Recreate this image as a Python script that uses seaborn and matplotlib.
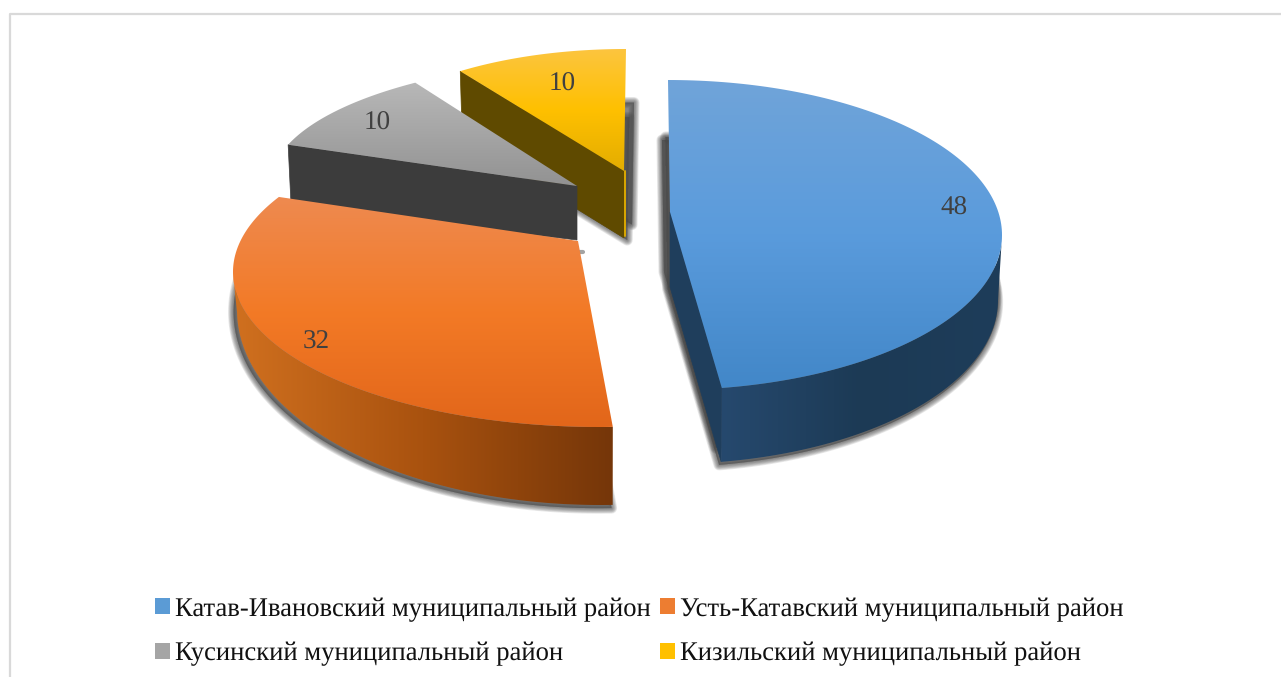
import numpy as np
import matplotlib
matplotlib.use("Agg")
import matplotlib.pyplot as plt
import seaborn as sns
from matplotlib.patches import Patch, Polygon

districts = [
    "Катав-Ивановский муниципальный район",
    "Усть-Катавский муниципальный район",
    "Кусинский муниципальный район",
    "Кизильский муниципальный район",
]
shares = [48, 32, 10, 10]

W, H = 1281, 677

# hand fitted projection of each exploded slice, screen pixels
# apex, top ellipse, bottom ellipse, depth, start shift and sweep stretch (degrees)
apexes = [(670, 212), (578, 241), (577, 186), (624, 171)]
centres = [(668, 235), (600, 272), (621, 183), (626, 165)]
radii = [(334, 155), (367, 155), (350, 124), (282, 116)]
low_centres = [(668, 300), (600, 310), (621, 237), (626, 232)]
low_radii = [(330, 164), (363, 195), (350, 124), (282, 116)]
depths = [75, 78, 54, 67]
shifts = [0, 5.2, 0, 0]
stretch = [0.988, 1.05, 1, 1]
shadow_dx = [-6, -3, 0, 8]
cut_nudge = [(0, 0), (0, 0), (3, 8), (2, 0)]
label_xy = [(954, 208.5), (316, 342.5), (377, 123.5), (562, 84)]

top_colors = [
    ["#70a4d9", "#5a9bdc", "#4287c8"],
    ["#ee8a50", "#f37a26", "#e2661a"],
    ["#b8b8b8", "#a5a5a5", "#929292"],
    ["#fcc53f", "#ffc000", "#e3ad00"],
]
wall_colors = [
    ["#26496e", "#1c3a55", "#1e3d5a"],
    ["#d0701f", "#a9520f", "#753609"],
    ["#3e3e3e", "#3c3c3c", "#3c3c3c"],
    ["#6a5208", "#5f4a00", "#5f4a00"],
]
inner_colors = ["#1f3e5c", None, "#3c3c3c", "#5f4a00"]
legend_colors = ["#5b9bd5", "#ed7d31", "#a5a5a5", "#ffc000"]


def arc_points(centre, radius, start, sweep):
    theta = np.radians(np.linspace(start, start + sweep, 160))
    x = centre[0] + radius[0] * np.sin(theta)
    y = centre[1] - radius[1] * np.cos(theta)
    return np.column_stack([x, y])


def fill_gradient(ax, poly, colors, vertical, zorder):
    # image under a polygon clip, the library has no gradient fill
    cmap = sns.blend_palette(colors, as_cmap=True)
    x0, y0 = poly.min(axis=0)
    x1, y1 = poly.max(axis=0)
    ramp = np.linspace(0, 1, 256)
    ramp = ramp[:, None] if vertical else ramp[None, :]
    im = ax.imshow(ramp, cmap=cmap, extent=(x0, x1, y1, y0), origin="upper",
                   aspect="auto", zorder=zorder, interpolation="bilinear")
    clip = Polygon(poly, closed=True, transform=ax.transData, fc="none", ec="none")
    ax.add_patch(clip)
    im.set_clip_path(clip)


def draw_shadow(ax, poly, zorder):
    # stacked strokes stand in for a blur
    for lw in [8, 7, 6, 5, 4, 3, 2, 1]:
        ax.add_patch(Polygon(poly, closed=True, fc="#4a4a4a", ec="#4a4a4a",
                             lw=lw, alpha=0.12, joinstyle="round", zorder=zorder))


sns.set_theme(style="white")
plt.rcParams["font.family"] = ["Liberation Serif", "DejaVu Serif"]
plt.rcParams["text.hinting"] = "no_hinting"

fig, ax = plt.subplots(figsize=(W / 100, H / 100), dpi=100)
ax.set_position([0, 0, 1, 1])
ax.set_axis_off()

# chart frame, only top and left survive in the crop
ax.plot([9.5, 9.5, W], [H, 13.7, 13.7], color="#d9d9d9", lw=1.6, zorder=1)

starts = np.cumsum([0] + shares[:-1]) / sum(shares) * 360

# back to front so the blue and orange faces sit on top
for z, i in enumerate([3, 2, 1, 0]):
    base = 10 + z * 10
    start = starts[i] + shifts[i]
    sweep = shares[i] / sum(shares) * 360 * stretch[i]
    arc = arc_points(centres[i], radii[i], start, sweep)
    low = arc_points(low_centres[i], low_radii[i], start, sweep)
    apex = np.array(apexes[i], dtype=float)
    drop = np.array([0, depths[i]], dtype=float)
    top = np.vstack([apex, arc])
    bottom = np.vstack([apex + drop, low])

    # shadow, a lowered copy of the top and a slightly bigger copy of the base
    side = np.array([shadow_dx[i], 0.0])
    if i in (0, 3):
        draw_shadow(ax, top + side + drop * 0.8, base)
    if i != 2:
        grown = low_centres[i] + (bottom - low_centres[i]) * 1.006 + np.array([side[0] * 0.4, 2.0])
        draw_shadow(ax, grown, base)
    else:
        # only a speck of the grey shadow shows past the orange corner
        ax.plot([apex[0] + 2, apex[0] + 6], [apex[1] + depths[i] + 12] * 2, color="#666666",
                lw=3, alpha=0.6, solid_capstyle="round", zorder=base)

    # cut wall facing the viewer
    if inner_colors[i] is not None:
        cut_end = arc[-1] if i == 0 else arc[0]
        cut_low = low[-1] if i == 0 else cut_end + drop + cut_nudge[i]
        wall = np.vstack([apex, cut_end, cut_low, apex + drop])
        ax.add_patch(Polygon(wall, closed=True, fc=inner_colors[i],
                             ec=inner_colors[i], lw=0.5, zorder=base + 1))

    # rim, only the part of the arc on the near side
    if i in (0, 1):
        near = arc[:, 1] >= centres[i][1]
        rim = np.vstack([arc[near], low[near][::-1]])
        fill_gradient(ax, rim, wall_colors[i], False, base + 2)

    # thin lit edge along the yellow cut
    if i == 3:
        ax.plot([apex[0] + 1, apex[0] + 1], [apex[1], apex[1] + depths[i] - 2],
                color="#dba800", lw=1.4, zorder=base + 2)

    fill_gradient(ax, top, top_colors[i], True, base + 3)

    ax.text(*label_xy[i], str(shares[i]), color="#404040", fontsize=19.5,
            ha="center", va="center", zorder=90)

ax.set_xlim(0, W)
ax.set_ylim(H, 0)

# legend fills by column, so hand it the rows crossed over
order = [0, 2, 1, 3]
handles = [Patch(fc=legend_colors[i], ec="none") for i in order]
ax.legend(handles, [districts[i] for i in order], ncol=2, frameon=False,
          fontsize=19.2, handlelength=0.56, handleheight=0.56, handletextpad=0.19,
          columnspacing=0.34, labelspacing=0.75, borderpad=0, borderaxespad=0,
          loc="upper left", bbox_to_anchor=(155 / W, 1 - 597 / H),
          labelcolor="#111111")

fig.savefig("out.png", dpi=100)
